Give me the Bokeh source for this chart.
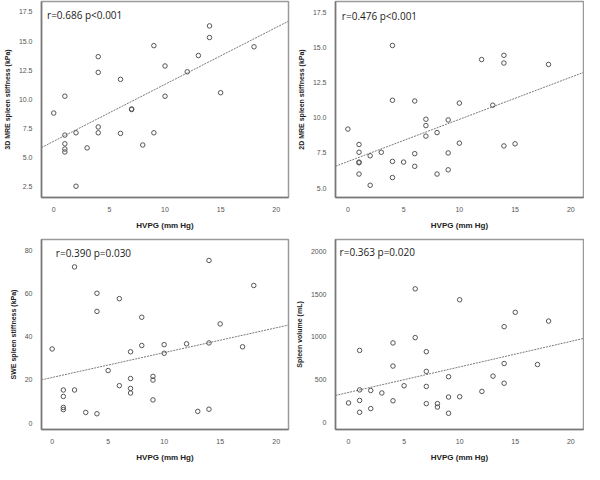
from bokeh.plotting import figure
from bokeh.layouts import gridplot
from bokeh.models import FixedTicker, PrintfTickFormatter, Label, Range1d
from bokeh.embed import file_html
from bokeh.resources import INLINE

# ---- data ----
x_ticks = [0, 5, 10, 15, 20]
x_label = "HVPG (mm Hg)"

hvpg_3d = [0, 1, 1, 1, 1, 1, 2, 2, 3, 4, 4, 4, 4, 6, 6, 7, 7, 8, 9, 9, 10, 10, 12, 13, 14, 14, 15, 18]
mre3d = [8.8, 10.25, 6.9, 6.15, 5.7, 5.45, 7.1, 2.5, 5.8, 13.65, 12.3, 7.6, 7.1, 11.7, 7.05, 9.15, 9.1,
         6.05, 14.6, 7.1, 12.85, 10.25, 12.35, 13.75, 16.3, 15.3, 10.55, 14.5]
fit_3d = (6.37, 0.49)
ticks_3d = [2.5, 5.0, 7.5, 10.0, 12.5, 15.0, 17.5]
text_3d = "r=0.686 p<0.001"
ylab_3d = "3D MRE spleen stiffness (kPa)"

hvpg_2d = [0, 1, 1, 1, 1, 1, 2, 2, 3, 4, 4, 4, 4, 5, 6, 6, 6, 7, 7, 7, 8, 8, 9, 9, 9, 10, 10, 12, 13, 14, 14, 14, 15, 18]
mre2d = [9.2, 8.1, 7.55, 6.85, 6.8, 6.0, 7.3, 5.2, 7.55, 15.15, 11.25, 6.9, 5.75, 6.85, 11.2, 7.45, 6.55,
         9.9, 9.45, 8.7, 8.95, 6.0, 9.85, 7.5, 6.3, 11.05, 8.2, 14.15, 10.9, 14.45, 13.9, 8.0, 8.15, 13.8]
fit_2d = (6.89, 0.30)
ticks_2d = [5.0, 7.5, 10.0, 12.5, 15.0, 17.5]
text_2d = "r=0.476 p<0.001"
ylab_2d = "2D MRE spleen stiffness (kPa)"

hvpg_swe = [0, 1, 1, 1, 1, 2, 2, 3, 4, 4, 4, 5, 6, 6, 7, 7, 7, 7, 8, 8, 9, 9, 9, 10, 10, 12, 13, 14, 14, 14, 15, 17, 18]
swe = [34.3, 15.3, 12.3, 7.2, 6.2, 72.3, 15.3, 4.9, 60.1, 51.7, 4.3, 24.3, 57.6, 17.3, 33.0, 20.6, 16.0,
       13.9, 49.0, 35.9, 21.6, 19.9, 10.7, 36.3, 32.3, 36.7, 5.4, 75.3, 37.1, 6.4, 45.9, 35.3, 63.7]
fit_swe = (21.1, 1.15)
ticks_swe = [0, 20, 40, 60, 80]
text_swe = "r=0.390 p=0.030"
ylab_swe = "SWE spleen stiffness (kPa)"

hvpg_vol = [0, 1, 1, 1, 1, 2, 2, 3, 4, 4, 4, 5, 6, 6, 7, 7, 7, 7, 8, 8, 9, 9, 9, 10, 10, 12, 13, 14, 14, 14, 15, 17, 18]
volume = [233, 844, 385, 262, 124, 378, 167, 349, 931, 662, 258, 433, 1560, 993, 829, 600, 425, 225,
          225, 185, 538, 302, 113, 1433, 305, 367, 545, 1120, 691, 462, 1287, 680, 1185]
fit_vol = (355, 29.7)
ticks_vol = [0, 500, 1000, 1500, 2000]
text_vol = "r=0.363 p=0.020"
ylab_vol = "Spleen volume (mL)"


def panel(xs, ys, fit, yticks, yfmt, text, ylab, xr, yr, borders, txy):
    left, right, top, bottom = borders
    p = figure(width=292, height=232, output_backend="svg", toolbar_location=None,
               x_range=Range1d(*xr), y_range=Range1d(*yr),
               min_border_left=left, min_border_right=right,
               min_border_top=top, min_border_bottom=bottom)
    p.background_fill_color = "white"
    p.border_fill_color = "white"
    p.outline_line_color = "#9a9a9a"
    p.outline_line_width = 1.5
    p.xgrid.visible = False
    p.ygrid.visible = False
    for ax in (p.xaxis[0], p.yaxis[0]):
        ax.axis_line_color = "#777777"
        ax.axis_line_width = 1.5
        ax.major_tick_line_color = None
        ax.minor_tick_line_color = None
        ax.major_label_text_font = "Liberation Sans"
        ax.major_label_text_font_size = "7px"
        ax.major_label_text_color = "#555555"
        ax.major_label_standoff = 3
        ax.axis_label_text_font = "Liberation Sans"
        ax.axis_label_text_font_style = "bold"
        ax.axis_label_text_color = "#222222"
    p.xaxis.ticker = FixedTicker(ticks=x_ticks)
    p.yaxis.ticker = FixedTicker(ticks=yticks)
    if yfmt:
        p.yaxis.formatter = PrintfTickFormatter(format=yfmt)
    p.xaxis.axis_label = x_label
    p.xaxis.axis_label_text_font_size = "8px"
    p.xaxis.axis_label_standoff = 6
    p.yaxis.axis_label = ylab
    p.yaxis.axis_label_text_font_size = "7px"
    p.yaxis.axis_label_standoff = 5

    a, b = fit
    lx = [xr[0], xr[1]]
    p.line(lx, [a + b * v for v in lx], line_color="#7a7a7a", line_width=1, line_dash="2 1")
    p.scatter(xs, ys, size=4.5, marker="circle", fill_color=None, line_color="#555555", line_width=1)
    p.add_layout(Label(x=txy[0], y=txy[1], text=text, text_font="Open Sans", text_font_size="10px",
                       text_color="#1a1a1a", text_baseline="middle", text_align="left"))
    return p


p1 = panel(hvpg_3d, mre3d, fit_3d, ticks_3d, "%.1f", text_3d, ylab_3d,
           (-1.1, 21.1), (1.53, 18.4), (28, 4, 1, 29), (-0.6, 17.23))
p2 = panel(hvpg_2d, mre2d, fit_2d, ticks_2d, "%.1f", text_2d, ylab_2d,
           (-1.11, 21.14), (4.33, 18.28), (32, 1, 1, 30), (-0.54, 17.24))
p3 = panel(hvpg_swe, swe, fit_swe, ticks_swe, None, text_swe, ylab_swe,
           (-0.95, 21.1), (-3, 85), (24, 4, 4, 30), (0.33, 78.6))
p4 = panel(hvpg_vol, volume, fit_vol, ticks_vol, None, text_vol, ylab_vol,
           (-1.17, 21.14), (-76, 2134), (32, 1, 7, 30), (-0.8, 1989))

grid = gridplot([[p1, p2], [p3, p4]], toolbar_location=None)
open("out.html", "w").write(file_html(grid, INLINE))
